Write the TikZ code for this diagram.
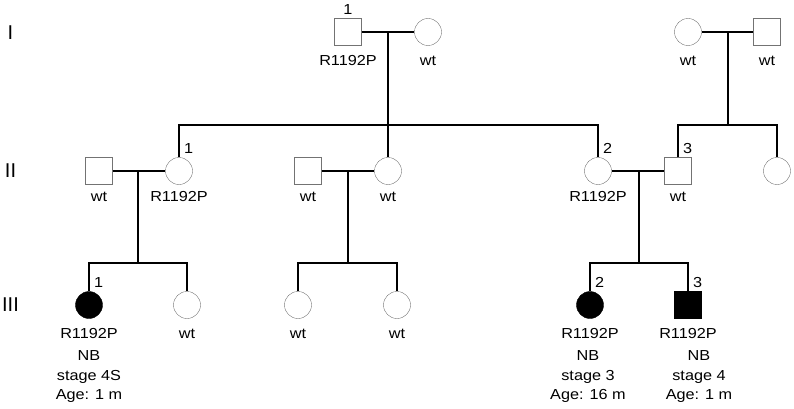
\documentclass[tikz,border=0pt]{standalone}
\usepackage{fontspec}
\setmainfont[FakeStretch=1.12]{Liberation Sans}
\newfontfamily\genfont{Liberation Sans}
\begin{document}
\begin{tikzpicture}[x=1pt,y=-1pt,
    male/.style={rectangle, draw=black!55, minimum size=27pt, inner sep=0pt},
    female/.style={circle, draw=black!55, minimum size=27pt, inner sep=0pt},
    affected/.style={fill=black, draw=black},
    line/.style={line width=1.7pt},
    lab/.style={font=\fontsize{14.5}{19.5}\selectfont, inner sep=0pt},
    gen/.style={font=\genfont\fontsize{20}{24}\selectfont, inner sep=0pt}]
        \useasboundingbox (0,0) rectangle (794,409);

        % Generations
        \node[gen] (genI) at (10.5,33) {I};
        \node[gen] (genII) at (10.5,171) {II};
        \node[gen] (genIII) at (10.5,305) {III};

        % Generation I
        \node[male] (I1) at (348,32) {};
        \node[female] (I2) at (428,32) {};
        \node[female] (I3) at (688,32) {};
        \node[male] (I4) at (767,32) {};

        % Generation II
        \node[male] (IIa) at (99,171) {};
        \node[female] (II1) at (179,171) {};
        \node[male] (IIb) at (308,171) {};
        \node[female] (IIc) at (388,171) {};
        \node[female] (II2) at (598,171) {};
        \node[male] (II3) at (678,171) {};
        \node[female] (IId) at (777,171) {};

        % Generation III
        \node[female, affected] (III1) at (89,305) {};
        \node[female] (IIIa) at (187,305) {};
        \node[female] (IIIb) at (298,305) {};
        \node[female] (IIIc) at (397,305) {};
        \node[female, affected] (III2) at (590,305) {};
        \node[male, affected] (III3) at (688,305) {};

        % Mating and sibship points
        \coordinate (m1) at (388,32);
        \coordinate (s1) at (388,125);
        \coordinate (m2) at (728,32);
        \coordinate (s2) at (728,125);
        \coordinate (m3) at (138,171);
        \coordinate (s3) at (138,263);
        \coordinate (m4) at (348,171);
        \coordinate (s4) at (348,263);
        \coordinate (m5) at (639,171);
        \coordinate (s5) at (639,263);

        % Lines of descent
        \draw[line] (I1.east) -- (I2.west);
        \draw[line] (m1) -- (IIc.north);
        \draw[line] (II1.north) |- (s1) -| (II2.north);
        \draw[line] (I3.east) -- (I4.west);
        \draw[line] (m2) -- (s2);
        \draw[line] (II3.north) |- (s2) -| (IId.north);
        \draw[line] (IIa.east) -- (II1.west);
        \draw[line] (m3) -- (s3);
        \draw[line] (III1.north) |- (s3) -| (IIIa.north);
        \draw[line] (IIb.east) -- (IIc.west);
        \draw[line] (m4) -- (s4);
        \draw[line] (IIIb.north) |- (s4) -| (IIIc.north);
        \draw[line] (II2.east) -- (II3.west);
        \draw[line] (m5) -- (s5);
        \draw[line] (III2.north) |- (s5) -| (III3.north);

        % Individual numbers
        \node[lab, anchor=base] (nI1) at ([yshift=3.5pt]I1.north) {1};
        \foreach \p/\n in {II1/1, II2/2, II3/3, III1/1, III2/2, III3/3} {
            \node[lab, anchor=base west] (n\p) at ([xshift=5pt, yshift=4pt]\p.north) {\n};
        }

        % Genotypes
        \foreach \p/\t in {I1/R1192P, I2/wt, I3/wt, I4/wt} {
            \node[lab, anchor=base] (g\p) at ([yshift=-20pt]\p.south) {\t};
        }
        \foreach \p/\t in {IIa/wt, II1/R1192P, IIb/wt, IIc/wt, II2/R1192P, II3/wt} {
            \node[lab, anchor=base] (g\p) at ([yshift=-16.5pt]\p.south) {\t};
        }
        \foreach \p/\t in {III1/R1192P, IIIa/wt, IIIb/wt, IIIc/wt, III2/R1192P, III3/R1192P} {
            \node[lab, anchor=base] (g\p) at ([yshift=-19.5pt]\p.south) {\t};
        }

        % Tumour details
        \node[lab, align=center] (dIII1) at (89,377) {NB\\stage 4S\\Age: 1 m};
        \node[lab, align=center] (dIII2) at (588,377) {NB\\stage 3\\Age: 16 m};
        \node[lab, align=center] (dIII3) at (699,377) {NB\\stage 4\\Age: 1 m};
\end{tikzpicture}
\end{document}
